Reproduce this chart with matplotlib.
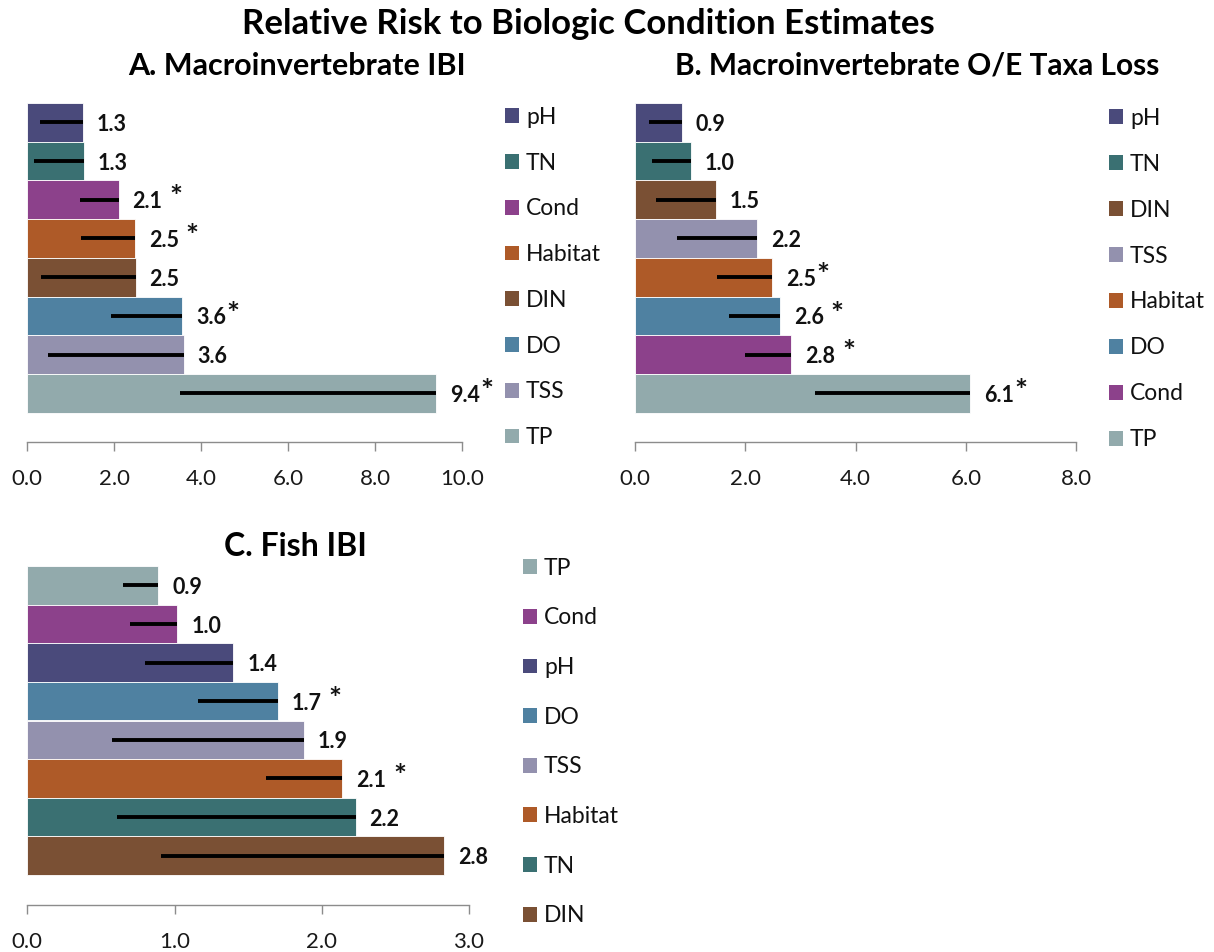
import matplotlib
matplotlib.use("Agg")
import matplotlib.pyplot as plt
from matplotlib.patches import Patch

plt.rcParams['font.family'] = ['Lato', 'DejaVu Sans']

COLORS = {
    'pH': '#4A4A7B', 'TN': '#3A7072', 'Cond': '#8C418B', 'Habitat': '#AE5A28',
    'DIN': '#7A5034', 'DO': '#4F81A1', 'TSS': '#9391AE', 'TP': '#92AAAC',
}

# Panel A: Macroinvertebrate IBI (top to bottom)
a_vars = ['pH', 'TN', 'Cond', 'Habitat', 'DIN', 'DO', 'TSS', 'TP']
a_vals = [1.27, 1.30, 2.10, 2.47, 2.49, 3.56, 3.60, 9.39]
a_low = [0.29, 0.16, 1.20, 1.23, 0.31, 1.92, 0.48, 3.52]
a_labels = ['1.3', '1.3', '2.1', '2.5', '2.5', '3.6', '3.6', '9.4']
a_star = ['', '', ' *', ' *', '', '*', '', '*']
a_ticks = [0, 2, 4, 6, 8, 10]

# Panel B: Macroinvertebrate O/E Taxa Loss
b_vars = ['pH', 'TN', 'DIN', 'TSS', 'Habitat', 'DO', 'Cond', 'TP']
b_vals = [0.85, 1.02, 1.47, 2.22, 2.49, 2.63, 2.84, 6.07]
b_low = [0.25, 0.31, 0.39, 0.76, 1.49, 1.70, 2.00, 3.27]
b_labels = ['0.9', '1.0', '1.5', '2.2', '2.5', '2.6', '2.8', '6.1']
b_star = ['', '', '', '', '*', ' *', ' *', '*']
b_ticks = [0, 2, 4, 6, 8]

# Panel C: Fish IBI
c_vars = ['TP', 'Cond', 'pH', 'DO', 'TSS', 'Habitat', 'TN', 'DIN']
c_vals = [0.89, 1.02, 1.40, 1.70, 1.88, 2.14, 2.23, 2.83]
c_low = [0.65, 0.70, 0.80, 1.16, 0.575, 1.62, 0.61, 0.91]
c_labels = ['0.9', '1.0', '1.4', '1.7', '1.9', '2.1', '2.2', '2.8']
c_star = ['', '', '', ' *', '', ' *', '', '']
c_ticks = [0, 1, 2, 3]

W, H = 1214, 952
fig = plt.figure(figsize=(W / 100, H / 100), dpi=100)

def px_axes(left, right, top, bottom):
    return fig.add_axes([left / W, 1 - bottom / H, (right - left) / W, (bottom - top) / H])

def panel(ax, vars_, vals, lows, labels, stars, ticks, gap):
    n = len(vars_)
    ys = list(range(n))
    for y, v, lo, var in zip(ys, vals, lows, vars_):
        ax.barh(y, v, height=1.0, color=COLORS[var], edgecolor='white', linewidth=0.6)
        ax.errorbar(v, y, xerr=[[v - lo], [0]], fmt='none', ecolor='black',
                    elinewidth=2.8, capsize=0)
    for y, v, lab, st in zip(ys, vals, labels, stars):
        t = ax.annotate(lab, xy=(v, y), xytext=(10, -1.5), textcoords='offset points',
                        ha='left', va='center', fontsize=15.5, fontweight='bold',
                        color='#111111')
        if st:
            dx = 5 if st.startswith(' ') else 0.5
            ax.annotate('*', xy=(1, 0.5), xycoords=t, xytext=(dx, 2.5),
                        textcoords='offset points', ha='left', va='center',
                        fontsize=22, fontweight='bold', color='#111111')
    ax.set_ylim(n - 0.5 + gap, -0.5 - gap)
    ax.set_xlim(ticks[0], ticks[-1])
    ax.set_xticks(ticks)
    ax.set_xticklabels([f'{t:.1f}' for t in ticks])
    ax.set_yticks([])
    for s in ['top', 'left', 'right']:
        ax.spines[s].set_visible(False)
    ax.spines['bottom'].set_color('#8c8c8c')
    ax.spines['bottom'].set_linewidth(1.0)
    ax.tick_params(axis='x', direction='out', length=6.5, width=1.0, color='#8c8c8c',
                   pad=13, labelsize=16, labelcolor='#1a1a1a')
    ax.patch.set_alpha(0)

def legend(vars_, x_px, yc_px, spacing):
    handles = [Patch(facecolor=COLORS[v], edgecolor='none') for v in vars_]
    leg = fig.legend(handles, vars_, loc='center left',
                     bbox_to_anchor=(x_px / W, 1 - yc_px / H), frameon=False,
                     fontsize=16.5, handlelength=0.62, handleheight=0.62,
                     handletextpad=0.3, borderpad=0, borderaxespad=0,
                     labelspacing=spacing, labelcolor='#111111')
    return leg

axA = px_axes(27.3, 462.3, 74, 441.7)
panel(axA, a_vars, a_vals, a_low, a_labels, a_star, a_ticks, 0.75)
axB = px_axes(634.7, 1076.3, 74, 441.7)
panel(axB, b_vars, b_vals, b_low, b_labels, b_star, b_ticks, 0.75)
axC = px_axes(27.3, 469, 536, 905)
panel(axC, c_vars, c_vals, c_low, c_labels, c_star, c_ticks, 0.78)

legend(a_vars, 505, 277.5, 1.08)
legend(b_vars, 1109, 279, 1.09)
legend(c_vars, 523, 742, 1.25)

fig.text(588 / W, 1 - 24 / H, 'Relative Risk to Biologic Condition Estimates',
         ha='center', va='center', fontsize=25, fontweight='bold', color='black')
fig.text(297 / W, 1 - 66 / H, 'A. Macroinvertebrate IBI',
         ha='center', va='center', fontsize=22, fontweight='bold', color='black')
fig.text(917 / W, 1 - 66 / H, 'B. Macroinvertebrate O/E Taxa Loss',
         ha='center', va='center', fontsize=21.5, fontweight='bold', color='black')
fig.text(295 / W, 1 - 546 / H, 'C. Fish IBI',
         ha='center', va='center', fontsize=23, fontweight='bold', color='black')

fig.savefig('out.png', dpi=100)
